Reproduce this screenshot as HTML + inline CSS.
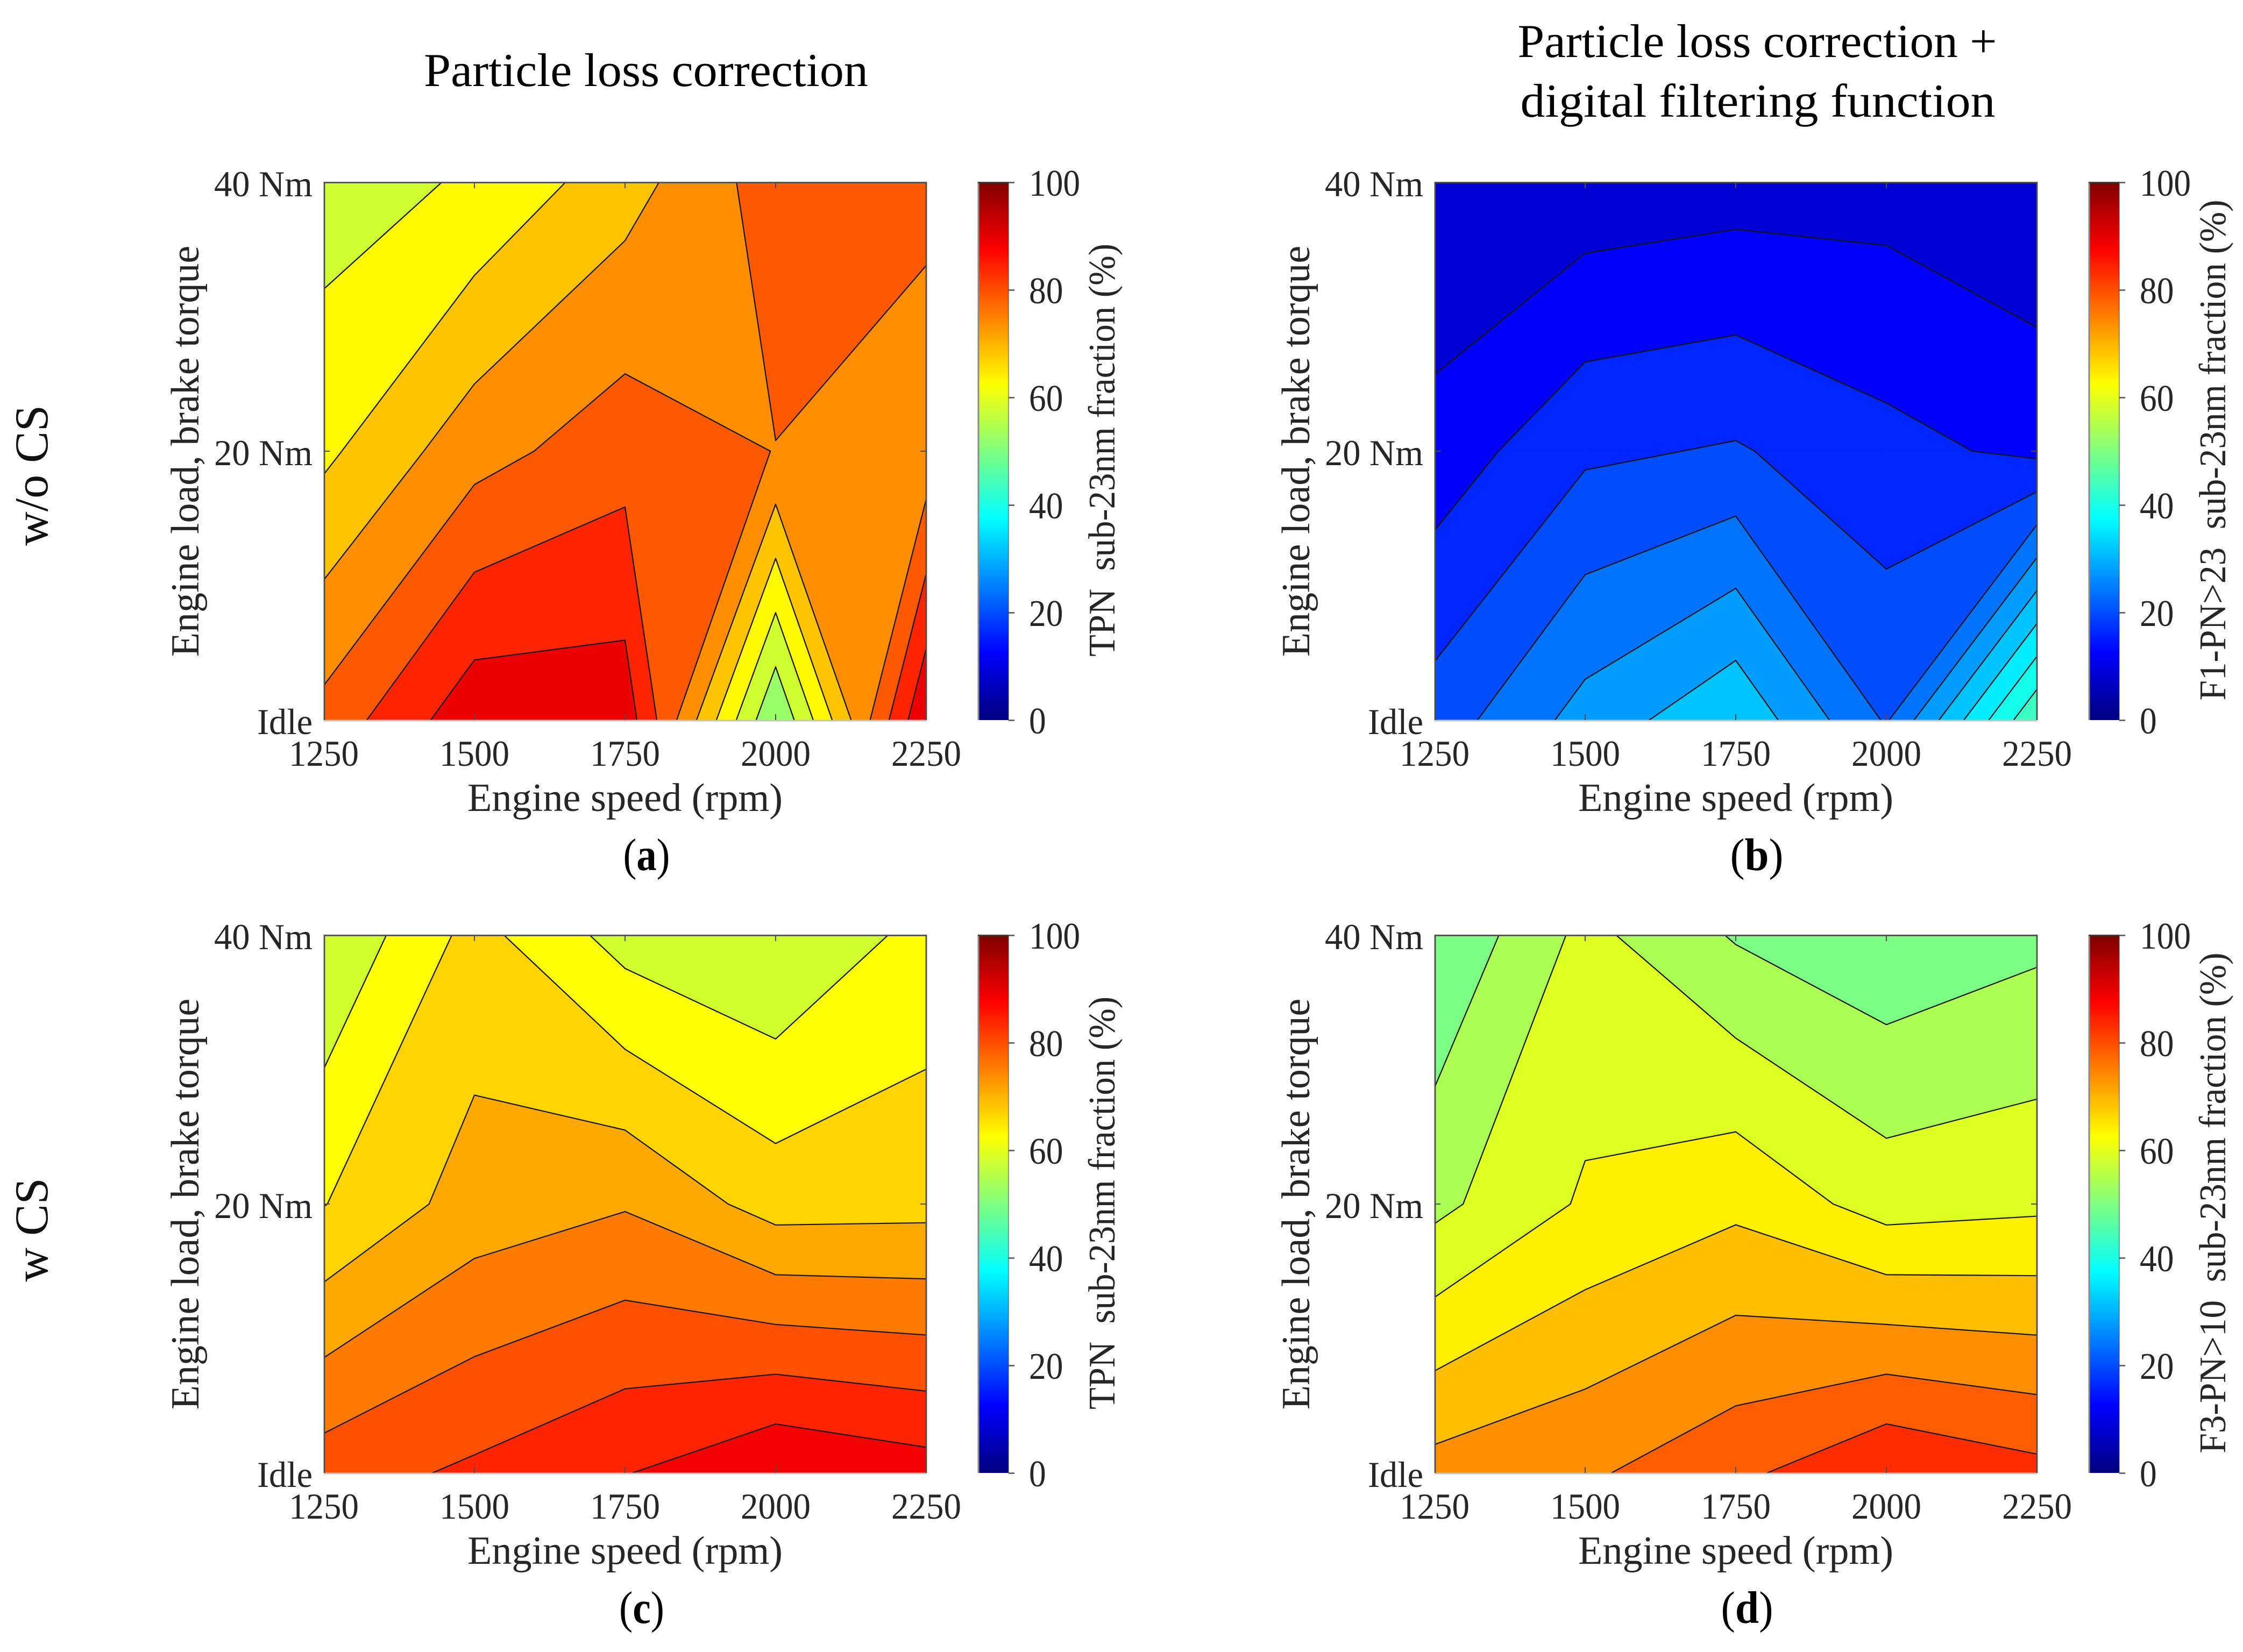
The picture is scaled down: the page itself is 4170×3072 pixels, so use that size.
<!DOCTYPE html>
<html lang="en">
<head>
<meta charset="utf-8">
<title>Contour maps of sub-23nm particle fraction</title>
<style>
html,body{margin:0;padding:0;background:#fff;}
svg{display:block;}
text{font-family:"Liberation Serif",serif;white-space:pre;}
</style>
</head>
<body>
<svg id="figure" xmlns="http://www.w3.org/2000/svg" width="4170" height="3072" viewBox="0 0 4170 3072">
  <rect x="0" y="0" width="4170" height="3072" fill="#ffffff"/>
  <text x="1201" y="160" font-size="88" text-anchor="middle" fill="#000" textLength="826" lengthAdjust="spacingAndGlyphs">Particle loss correction</text>
  <text x="3267" y="106" font-size="88" text-anchor="middle" fill="#000" textLength="891" lengthAdjust="spacingAndGlyphs">Particle loss correction +</text>
  <text x="3268" y="217" font-size="88" text-anchor="middle" fill="#000" textLength="883" lengthAdjust="spacingAndGlyphs">digital filtering function</text>
  <text transform="rotate(-90 88 884)" x="88" y="884" font-size="88" text-anchor="middle" fill="#111">w/o CS</text>
  <text transform="rotate(-90 88 2287)" x="88" y="2287" font-size="88" text-anchor="middle" fill="#111">w CS</text>
  <text x="1202" y="1618" font-size="85" text-anchor="middle" fill="#000" textLength="87" lengthAdjust="spacingAndGlyphs">(<tspan font-weight="bold">a</tspan>)</text>
  <text x="3266" y="1618" font-size="85" text-anchor="middle" fill="#000" textLength="99" lengthAdjust="spacingAndGlyphs">(<tspan font-weight="bold">b</tspan>)</text>
  <text x="1193" y="3018" font-size="85" text-anchor="middle" fill="#000" textLength="84" lengthAdjust="spacingAndGlyphs">(<tspan font-weight="bold">c</tspan>)</text>
  <text x="3248" y="3018" font-size="85" text-anchor="middle" fill="#000" textLength="97" lengthAdjust="spacingAndGlyphs">(<tspan font-weight="bold">d</tspan>)</text>
</svg>
<script>
// Axis categories and ticks
const speedCategories = [1250, 1500, 1750, 2000, 2250];
const loadCategories = [0, 20, 40];
const loadTickLabels = ['Idle', '20 Nm', '40 Nm'];
const colorbarTicks = [0, 20, 40, 60, 80, 100];

// Panel (a) fraction values per load row, by engine speed
const panelAIdle = [80.47, 92.85, 92.4, 52.6, 94.3];
const panelA20 = [67.1, 76.75, 81.8, 78.64, 75.4];
const panelA40 = [60.3, 63.75, 71.2, 81.4, 80.25];
const panelALevels = [52.5, 57.75, 63, 68.25, 73.5, 78.75, 84, 89.25];

// Panel (b)
const panelBIdle = [21.74, 29.32, 34.92, 23.47, 47.05];
const panelB20 = [13.74, 19.3, 20.39, 17.29, 15.2];
const panelB40 = [8.33, 9.66, 10.46, 10.64, 8.68];
const panelBLevels = [8.3, 12.2, 16.1, 20, 23.9, 27.8, 31.7, 35.6, 39.5, 43.4];

// Panel (c)
const panelCIdle = [82.03, 84.9, 88.23, 92.73, 90.44];
const panelC20 = [66.55, 72.99, 75.03, 69.22, 69.6];
const panelC40 = [58.2, 68.2, 60.56, 58.03, 63.82];
const panelCLevels = [58, 62.35, 66.7, 71.05, 75.4, 79.75, 84.1, 88.45];

// Panel (d)
const panelDIdle = [75.45, 77.65, 81.96, 87.93, 84.72];
const panelD20 = [57.92, 64.66, 67.7, 61.98, 63.02];
const panelD40 = [49.8, 60.57, 53.92, 50.62, 53.23];
const panelDLevels = [49.6, 54.4, 59.2, 64, 68.8, 73.6, 78.4, 83.2];

const colorbarLabelA = 'TPN  sub-23nm fraction (%)';
const colorbarLabelB = 'F1-PN>23  sub-23nm fraction (%)';
const colorbarLabelC = 'TPN  sub-23nm fraction (%)';
const colorbarLabelD = 'F3-PN>10  sub-23nm fraction (%)';

const NS = 'http://www.w3.org/2000/svg';
const figure = document.getElementById('figure');

function clip01(v) { return Math.max(0, Math.min(1, v)); }
function jet(value) {
  const v = value / 100;
  const r = clip01(1.5 - Math.abs(4 * v - 3));
  const g = clip01(1.5 - Math.abs(4 * v - 2));
  const b = clip01(1.5 - Math.abs(4 * v - 1));
  return 'rgb(' + Math.round(r * 255) + ',' + Math.round(g * 255) + ',' + Math.round(b * 255) + ')';
}

function make(tag, parent, name, attrs) {
  const el = document.createElementNS(NS, tag);
  
  
  for (const k in attrs) el.setAttribute(k, attrs[k]);
  parent.appendChild(el);
  return el;
}

function label(parent, name, str, attrs) {
  const el = make('text', parent, name, attrs);
  el.textContent = str;
  return el;
}

// Region of one grid cell at or above a level, and its contour segments
function cellContour(corners, level) {
  const inside = corners.map(c => c.z >= level);
  const count = inside.filter(Boolean).length;
  if (count === 0) return { polys: [], segs: [] };
  const cross = k => {
    const a = corners[k], b = corners[(k + 1) % 4];
    if (inside[k] === inside[(k + 1) % 4]) return null;
    const t = (level - a.z) / (b.z - a.z);
    return [a.x + (b.x - a.x) * t, a.y + (b.y - a.y) * t];
  };
  const center = corners.reduce((s, c) => s + c.z, 0) / 4;
  const saddle = count === 2 && inside[0] === inside[2];
  const polys = [];
  const segs = [];
  if (saddle) {
    const connected = center >= level;
    for (let k = 0; k < 4; k++) {
      const isolated = connected ? !inside[k] : inside[k];
      if (isolated) segs.push([cross((k + 3) % 4), cross(k)]);
      if (!connected && inside[k]) {
        polys.push([cross((k + 3) % 4), [corners[k].x, corners[k].y], cross(k)]);
      }
    }
    if (!connected) return { polys, segs };
  }
  const poly = [];
  const crossings = [];
  for (let k = 0; k < 4; k++) {
    if (inside[k]) poly.push([corners[k].x, corners[k].y]);
    const c = cross(k);
    if (c) { poly.push(c); crossings.push(c); }
  }
  polys.push(poly);
  if (!saddle && crossings.length === 2) segs.push(crossings);
  return { polys, segs };
}

function pt(p) { return p[0].toFixed(2) + ' ' + p[1].toFixed(2); }

function drawPanel(p) {
  const left = p.left, top = p.top, width = 1120, height = 1000;
  const right = left + width, bottom = top + height;
  const xScale = rpm => left + (rpm - 1250) / (2250 - 1250) * width;
  const yScale = load => bottom - load / 40 * height;
  const rows = [p.idle, p.mid, p.high];

  const g = make('g', figure, 'contour-panel-' + p.id, {});
  const clip = document.createElementNS(NS, 'clipPath');
  clip.setAttribute('id', 'clip-' + p.id);
  const clipRect = document.createElementNS(NS, 'rect');
  clipRect.setAttribute('x', left);
  clipRect.setAttribute('y', top);
  clipRect.setAttribute('width', width);
  clipRect.setAttribute('height', height);
  clip.appendChild(clipRect);
  g.appendChild(clip);

  const fills = make('g', g, 'contour-fills-' + p.id, { 'clip-path': 'url(#clip-' + p.id + ')' });
  make('rect', fills, 'contour-band-base-' + p.id, { x: left, y: top, width: width, height: height, fill: jet(p.levels[0]) });
  const lines = make('g', g, 'contour-lines-' + p.id, { 'clip-path': 'url(#clip-' + p.id + ')' });

  p.levels.forEach((level, li) => {
    let fillD = '', lineD = '';
    for (let j = 0; j < loadCategories.length - 1; j++) {
      for (let i = 0; i < speedCategories.length - 1; i++) {
        const corners = [
          { x: xScale(speedCategories[i]), y: yScale(loadCategories[j]), z: rows[j][i] },
          { x: xScale(speedCategories[i + 1]), y: yScale(loadCategories[j]), z: rows[j][i + 1] },
          { x: xScale(speedCategories[i + 1]), y: yScale(loadCategories[j + 1]), z: rows[j + 1][i + 1] },
          { x: xScale(speedCategories[i]), y: yScale(loadCategories[j + 1]), z: rows[j + 1][i] }
        ];
        const r = cellContour(corners, level);
        r.polys.forEach(poly => { fillD += 'M' + poly.map(pt).join('L') + 'Z'; });
        r.segs.forEach(s => { lineD += 'M' + pt(s[0]) + 'L' + pt(s[1]); });
      }
    }
    const color = jet(level);
    if (fillD) {
      make('path', fills, 'contour-band-' + p.id + '-' + li, { d: fillD, fill: color, stroke: color, 'stroke-width': 1.2 });
    }
    if (lineD) {
      make('path', lines, 'contour-line-' + p.id + '-' + li, { d: lineD, fill: 'none', stroke: '#141414', 'stroke-width': 2.2, 'stroke-linecap': 'round' });
    }
  });

  // Frame and ticks
  const tickLen = 11;
  const axisColor = '#4d4d4d';
  make('line', g, 'plot-frame-bottom-' + p.id, { x1: left, x2: right, y1: bottom + 1, y2: bottom + 1, stroke: '#c4c4c4', 'stroke-width': 3 });
  make('path', g, 'plot-frame-' + p.id, { d: 'M' + (left + 1) + ' ' + bottom + 'V' + (top + 0.5) + 'H' + right + 'V' + bottom, fill: 'none', stroke: axisColor, 'stroke-width': 2.8 });
  speedCategories.forEach(rpm => {
    const x = xScale(rpm);
    if (rpm !== 1250 && rpm !== 2250) {
      make('line', g, 'x-tick-bottom-' + rpm, { x1: x, x2: x, y1: bottom, y2: bottom - tickLen, stroke: axisColor, 'stroke-width': 2 });
      make('line', g, 'x-tick-top-' + rpm, { x1: x, x2: x, y1: top, y2: top + tickLen, stroke: axisColor, 'stroke-width': 2 });
    }
    label(g, 'x-tick-label-' + rpm, String(rpm), { x: x, y: bottom + 85, 'font-size': 68, 'text-anchor': 'middle', fill: '#262626', textLength: 130, lengthAdjust: 'spacingAndGlyphs' });
  });
  loadCategories.forEach((load, i) => {
    const y = yScale(load);
    if (load !== 0 && load !== 40) {
      make('line', g, 'y-tick-left-' + load, { x1: left, x2: left + tickLen, y1: y, y2: y, stroke: axisColor, 'stroke-width': 2 });
      make('line', g, 'y-tick-right-' + load, { x1: right, x2: right - tickLen, y1: y, y2: y, stroke: axisColor, 'stroke-width': 2 });
    }
    label(g, 'y-tick-label-' + load, loadTickLabels[i], { x: left - 21, y: y + 26, 'font-size': 68, 'text-anchor': 'end', fill: '#262626', textLength: load === 0 ? 103 : 183, lengthAdjust: 'spacingAndGlyphs' });
  });
  label(g, 'x-axis-title-' + p.id, 'Engine speed (rpm)', { x: (left + right) / 2, y: bottom + 169, 'font-size': 74, 'text-anchor': 'middle', fill: '#262626', textLength: 586, lengthAdjust: 'spacingAndGlyphs' });
  const yTitleX = left - 233, yTitleY = (top + bottom) / 2;
  label(g, 'y-axis-title-' + p.id, 'Engine load, brake torque', { x: yTitleX, y: yTitleY, 'font-size': 74, 'text-anchor': 'middle', fill: '#262626', transform: 'rotate(-90 ' + yTitleX + ' ' + yTitleY + ')' });

  // Colorbar
  const barLeft = left + 1216, barRight = left + 1273;
  const cScale = v => bottom - v / 100 * height;
  const grad = document.createElementNS(NS, 'linearGradient');
  grad.setAttribute('id', 'jet-' + p.id);
  grad.setAttribute('x1', '0');
  grad.setAttribute('y1', '1');
  grad.setAttribute('x2', '0');
  grad.setAttribute('y2', '0');
  for (let v = 0; v <= 100; v += 2.5) {
    const stop = document.createElementNS(NS, 'stop');
    stop.setAttribute('offset', (v / 100).toFixed(3));
    stop.setAttribute('stop-color', jet(v));
    grad.appendChild(stop);
  }
  g.appendChild(grad);
  make('rect', g, 'colorbar-' + p.id, { x: barLeft, y: top, width: barRight - barLeft, height: height, fill: 'url(#jet-' + p.id + ')' });
  make('line', g, 'colorbar-left-edge-' + p.id, { x1: barLeft + 1, x2: barLeft + 1, y1: top, y2: bottom, stroke: '#8a8a8a', 'stroke-width': 3 });
  make('line', g, 'colorbar-right-edge-' + p.id, { x1: barRight, x2: barRight, y1: top, y2: bottom, stroke: '#404040', 'stroke-width': 1.6, 'stroke-opacity': 0.6 });
  make('line', g, 'colorbar-top-edge-' + p.id, { x1: barLeft, x2: barRight, y1: top + 0.5, y2: top + 0.5, stroke: '#443333', 'stroke-width': 2.8 });
  colorbarTicks.forEach(v => {
    const y = cScale(v);
    make('line', g, 'colorbar-tick-' + v, { x1: barRight, x2: barRight + 11, y1: y + 0.5, y2: y + 0.5, stroke: '#4d4d4d', 'stroke-width': 2.4 });
    label(g, 'colorbar-tick-label-' + v, String(v), { x: barRight + 38, y: y + 25, 'font-size': 70, fill: '#262626', textLength: String(v).length * 31.7, lengthAdjust: 'spacingAndGlyphs' });
  });
  const cbX = left + 1470, cbY = (top + bottom) / 2 - 2;
  label(g, 'colorbar-title-' + p.id, p.cbLabel, { x: cbX, y: cbY, 'font-size': 70, 'text-anchor': 'middle', fill: '#262626', textLength: p.cbLength, lengthAdjust: 'spacingAndGlyphs', transform: 'rotate(-90 ' + cbX + ' ' + cbY + ')' });
}

drawPanel({ id: 'a', left: 602, top: 339, idle: panelAIdle, mid: panelA20, high: panelA40, levels: panelALevels, cbLabel: colorbarLabelA, cbLength: 768 });
drawPanel({ id: 'b', left: 2667, top: 339, idle: panelBIdle, mid: panelB20, high: panelB40, levels: panelBLevels, cbLabel: colorbarLabelB, cbLength: 931 });
drawPanel({ id: 'c', left: 602, top: 1739, idle: panelCIdle, mid: panelC20, high: panelC40, levels: panelCLevels, cbLabel: colorbarLabelC, cbLength: 768 });
drawPanel({ id: 'd', left: 2667, top: 1739, idle: panelDIdle, mid: panelD20, high: panelD40, levels: panelDLevels, cbLabel: colorbarLabelD, cbLength: 931 });
</script>
</body>
</html>
